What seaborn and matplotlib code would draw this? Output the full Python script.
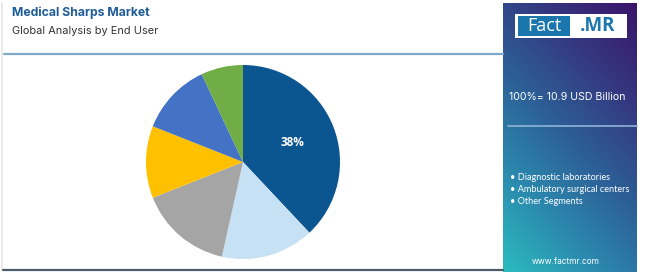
import numpy as np
import matplotlib
matplotlib.use("Agg")
import matplotlib.pyplot as plt
import seaborn as sns
from matplotlib.colors import LinearSegmentedColormap
from matplotlib.patches import Rectangle

# ---- data ----
segments = ["Hospitals", "Diagnostic laboratories", "Ambulatory surgical centers",
            "Segment 4", "Segment 5", "Other Segments"]
shares = [38, 15.5, 15.5, 12, 12, 7]
colors = ["#0b5591", "#c5e1f3", "#a5a5a5", "#ffc000", "#4472c4", "#70ad47"]
legend_items = ["Diagnostic laboratories", "Ambulatory surgical centers", "Other Segments"]
total_text = "100%= 10.9 USD Billion"
title = "Medical Sharps Market"
subtitle = "Global Analysis by End User"

sns.set_theme(style="white")
plt.rcParams["font.family"] = ["Open Sans", "DejaVu Sans"]

W, H = 650, 272
fig = plt.figure(figsize=(W / 100, H / 100), dpi=100)
fig.patch.set_facecolor("white")

def fx(px):
    return px / W

def fy(py):
    return 1 - py / H

# frame lines
fig.add_artist(plt.Line2D([fx(2), fx(2)], [fy(3), fy(270)], color="#e6e6e6", lw=1.2))
fig.add_artist(plt.Line2D([fx(4), fx(503)], [fy(54), fy(54)], color="#7ea9c9", lw=1.6))
fig.add_artist(plt.Line2D([fx(3), fx(503)], [fy(270), fy(270)], color="#4d5b6b", lw=1.6))

# title
fig.text(fx(12), fy(13), title, fontsize=8.8, fontweight="bold", color="#1e5c9a",
         va="center", ha="left", family=["Inter", "DejaVu Sans"])
fig.text(fx(12), fy(31), subtitle, fontsize=7.9, color="#333333",
         va="center", ha="left", family=["Inter", "DejaVu Sans"])

# pie
cx, cy, r = 243, 162, 97
ax = fig.add_axes([fx(cx - r), 1 - (cy + r) / H, 2 * r / W, 2 * r / H])
wedges, texts, autotexts = ax.pie(
    shares, colors=colors, startangle=90, counterclock=False,
    autopct=lambda p: "38%" if p > 30 else "", pctdistance=0.55,
    wedgeprops=dict(linewidth=0, edgecolor="none"),
    textprops=dict(color="white", fontsize=8.5, fontweight="bold"))
ax.set_aspect("equal")
ax.set_xlim(-1, 1)
ax.set_ylim(-1, 1)
ax.axis("off")

# right gradient panel
px0, px1, py0, py1 = 503, 637, 3, 272
pax = fig.add_axes([fx(px0), fy(py1), (px1 - px0) / W, (py1 - py0) / H])
cmap = LinearSegmentedColormap.from_list(
    "g", ["#2cbcbf", "#2b8aae", "#2d5e96", "#35377f", "#3a146a"])
nx, ny = 200, 400
xx, yy = np.meshgrid(np.linspace(0, 1, nx), np.linspace(0, 1, ny))
t = 0.35 * xx + 0.65 * (1 - yy)
pax.imshow(t, cmap=cmap, aspect="auto", extent=[0, 1, 0, 1], origin="upper",
           vmin=0, vmax=1)
pax.set_xlim(0, 1)
pax.set_ylim(0, 1)
pax.axis("off")

# logo
lx0, lx1, ly0, ly1 = 515, 627, 14, 38
fig.add_artist(Rectangle((fx(lx0), fy(ly1)), (lx1 - lx0) / W, (ly1 - ly0) / H,
                         transform=fig.transFigure, facecolor="white", edgecolor="none"))
fig.add_artist(Rectangle((fx(518), fy(36)), (570 - 518) / W, (36 - 16) / H,
                         transform=fig.transFigure, facecolor="#1b76ad", edgecolor="none"))
fig.text(fx(544), fy(26), "Fact", fontsize=13, color="white", ha="center", va="center",
         family=["Open Sans", "DejaVu Sans"])
fig.text(fx(598), fy(26), ".MR", fontsize=13.5, color="#1b76ad", ha="center", va="center",
         fontweight="bold", family=["Open Sans", "DejaVu Sans"])

fig.text(fx(567), fy(97), total_text, fontsize=7.6, color="white", ha="center", va="center",
         family=["Inter", "DejaVu Sans"])
fig.add_artist(plt.Line2D([fx(508), fx(637)], [fy(126), fy(126)], color="#8fb4d8", lw=1.2))

for lab, yp in zip(legend_items, [177, 189, 201.5]):
    fig.text(fx(510), fy(yp), "\u2022 " + lab, fontsize=6.6, color="white",
             ha="left", va="center", family=["Lato", "DejaVu Sans"])

fig.text(fx(566), fy(262), "www.factmr.com", fontsize=6, color="white",
         ha="center", va="center", family=["Inter", "DejaVu Sans"])

fig.savefig("out.png", dpi=100, facecolor="white")
